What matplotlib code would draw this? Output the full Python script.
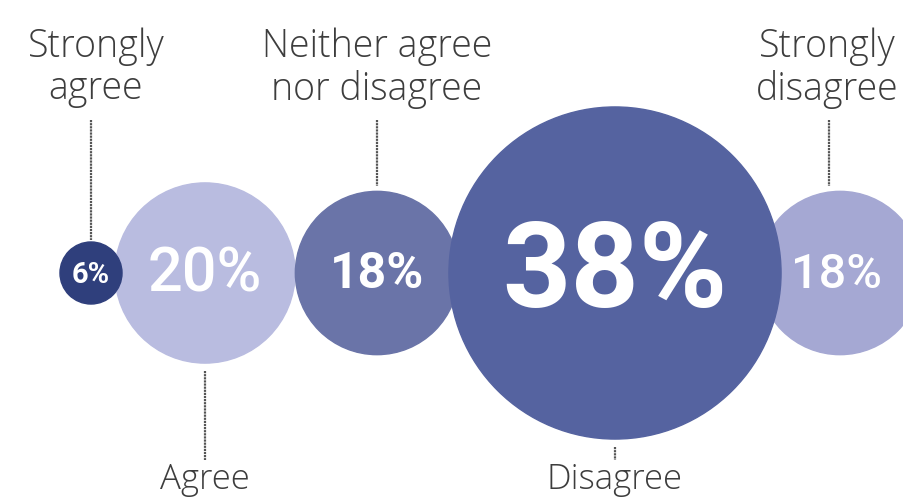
import matplotlib.pyplot as plt
from matplotlib.patches import Circle

# data
categories = ['Strongly\nagree', 'Agree', 'Neither agree\nnor disagree', 'Disagree', 'Strongly\ndisagree']
values = [6, 20, 18, 38, 18]

# layout / style (pixel space)
centers_x = [91, 205, 377, 615, 840]
center_y = 273
colors = ['#2f3f7c', '#b9bce0', '#6a74a8', '#5563a0', '#a5a8d3']
zorders = [3, 2, 3, 4, 1]
pct_sizes = [21, 44, 36, 86, 35]
pct_weights = ['bold', 'medium', 'bold', 'bold', 'medium']
label_above = [True, False, True, False, True]


def radius(v):
    # circle radius grows with the share
    return 5.7 + 4.22 * v


fig = plt.figure(figsize=(9.04, 5.0), dpi=100)
ax = fig.add_axes([0, 0, 1, 1])
ax.set_xlim(0, 904)
ax.set_ylim(500, 0)
ax.set_aspect('equal')
ax.axis('off')

for i, v in enumerate(values):
    x = centers_x[i]
    r = radius(v)
    ax.add_patch(Circle((x, center_y), r, color=colors[i], zorder=zorders[i]))
    tx = x - 3 if i == 4 else x
    ax.text(tx, center_y + 2, f'{v}%', color='white', fontsize=pct_sizes[i],
            fontweight=pct_weights[i], family='Roboto', ha='center', va='center',
            zorder=10)

    if label_above[i]:
        lx = x if i != 4 else 829
        ax.plot([lx, lx], [120, center_y - r - 5 if i != 0 else 240],
                color='#555555', lw=1.6, ls=(0, (1, 0.4)), zorder=0)
        ax.text(lx + (5 if i == 0 else 0) + (-2 if i == 4 else 0), 68, categories[i],
                color='#3d3d3d', fontsize=27, fontweight='light', family='Open Sans',
                ha='center', va='center', linespacing=1.12)
    else:
        top = center_y + r + 8
        bot = 460
        ax.plot([x, x], [top, bot], color='#555555', lw=1.6, ls=(0, (1, 0.4)), zorder=0)
        ax.text(x, 489, categories[i], color='#3d3d3d', fontsize=25,
                fontweight='light', family='Open Sans', ha='center', va='baseline')

fig.savefig('out.png', dpi=100)
